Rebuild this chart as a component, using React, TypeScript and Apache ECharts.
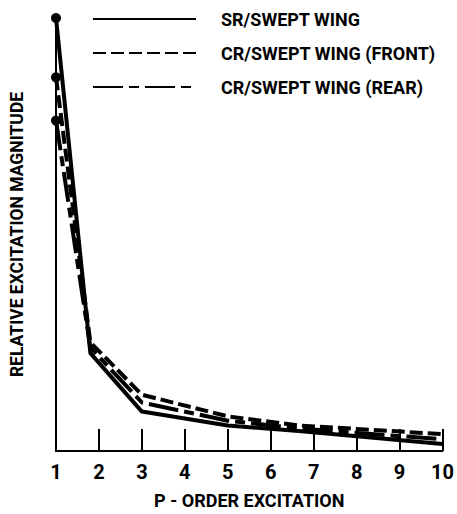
import React, { useEffect, useRef } from "react";
import * as echarts from "echarts";

const seriesNames = ["SR/SWEPT WING", "CR/SWEPT WING (FRONT)", "CR/SWEPT WING (REAR)"];
const srPoints: [number, number][] = [[1, 100], [1.8, 22.6], [3, 9.1], [5, 5.9], [6.65, 4.6], [10, 1.6]];
const crFrontPoints: [number, number][] = [[1, 86.3], [1.8, 25.1], [3, 13.0], [5, 8.0], [6.65, 5.9], [10, 3.9]];
const crRearPoints: [number, number][] = [[1, 76.3], [1.8, 23.9], [3, 11.2], [5, 7.0], [6.65, 5.2], [10, 2.7]];
const xTicks = [1, 2, 3, 4, 5, 6, 7, 8, 9, 10];
const xTitle = "P - ORDER EXCITATION";
const yTitle = "RELATIVE EXCITATION MAGNITUDE";

const FONT = "Roboto, 'Liberation Sans', sans-serif";

export default function App() {
  const ref = useRef<HTMLDivElement>(null);
  useEffect(() => {
    if (!ref.current) return;
    const chart = echarts.init(ref.current, undefined, { renderer: "svg" });
    const dashes = [null, [13, 5], [30, 6, 10, 6]];
    const allSeries = [srPoints, crFrontPoints, crRearPoints];
    chart.setOption({
      animation: false,
      backgroundColor: "#fff",
      grid: { left: 55, right: 12, top: 18, bottom: 57 },
      legend: {
        left: 92,
        top: 10,
        padding: 0,
        orient: "vertical",
        itemWidth: 103,
        itemHeight: 16,
        itemGap: 16,
        data: seriesNames,
        itemStyle: { color: "transparent", borderWidth: 0, opacity: 0 },
        textStyle: {
          fontFamily: FONT,
          fontWeight: "bold",
          fontSize: 18,
          color: "#000",
          padding: [0, 0, 0, 20],
        },
      },
      xAxis: {
        type: "value",
        min: 1,
        max: 10,
        interval: 1,
        axisLine: { show: true, lineStyle: { color: "#000", width: 2 } },
        axisTick: { show: true, inside: true, length: 22, lineStyle: { color: "#000", width: 2 } },
        axisLabel: {
          color: "#000",
          fontFamily: FONT,
          fontWeight: "bold",
          fontSize: 20,
          margin: 11,
          formatter: (v: number) => (xTicks.includes(v) ? String(v) : ""),
        },
        splitLine: { show: false },
        name: xTitle,
        nameLocation: "middle",
        nameGap: 40,
        nameTextStyle: { color: "#000", fontFamily: FONT, fontWeight: "bold", fontSize: 18 },
      },
      yAxis: {
        type: "value",
        min: 0,
        max: 100,
        axisLine: { show: true, lineStyle: { color: "#000", width: 2 } },
        axisTick: { show: false },
        axisLabel: { show: false },
        splitLine: { show: false },
        name: yTitle,
        nameLocation: "middle",
        nameGap: 30,
        nameRotate: 90,
        nameTextStyle: { color: "#000", fontFamily: FONT, fontWeight: "bold", fontSize: 17.5 },
      },
      series: [
        ...allSeries.map((pts, i) => ({
          name: seriesNames[i],
          type: "line",
          data: pts,
          symbol: "none",
          lineStyle: {
            color: "#000",
            width: 4,
            type: dashes[i] ? dashes[i] : "solid",
          },
          itemStyle: { color: "#000" },
        })),
        {
          name: "start",
          type: "scatter",
          data: allSeries.map((pts) => pts[0]),
          symbol: "circle",
          symbolSize: 10,
          itemStyle: { color: "#000", opacity: 1 },
          z: 5,
        },
      ],
    });
    return () => chart.dispose();
  }, []);
  return <div ref={ref} style={{ width: 457, height: 514, position: "absolute", left: 0, top: 0 }} />;
}
